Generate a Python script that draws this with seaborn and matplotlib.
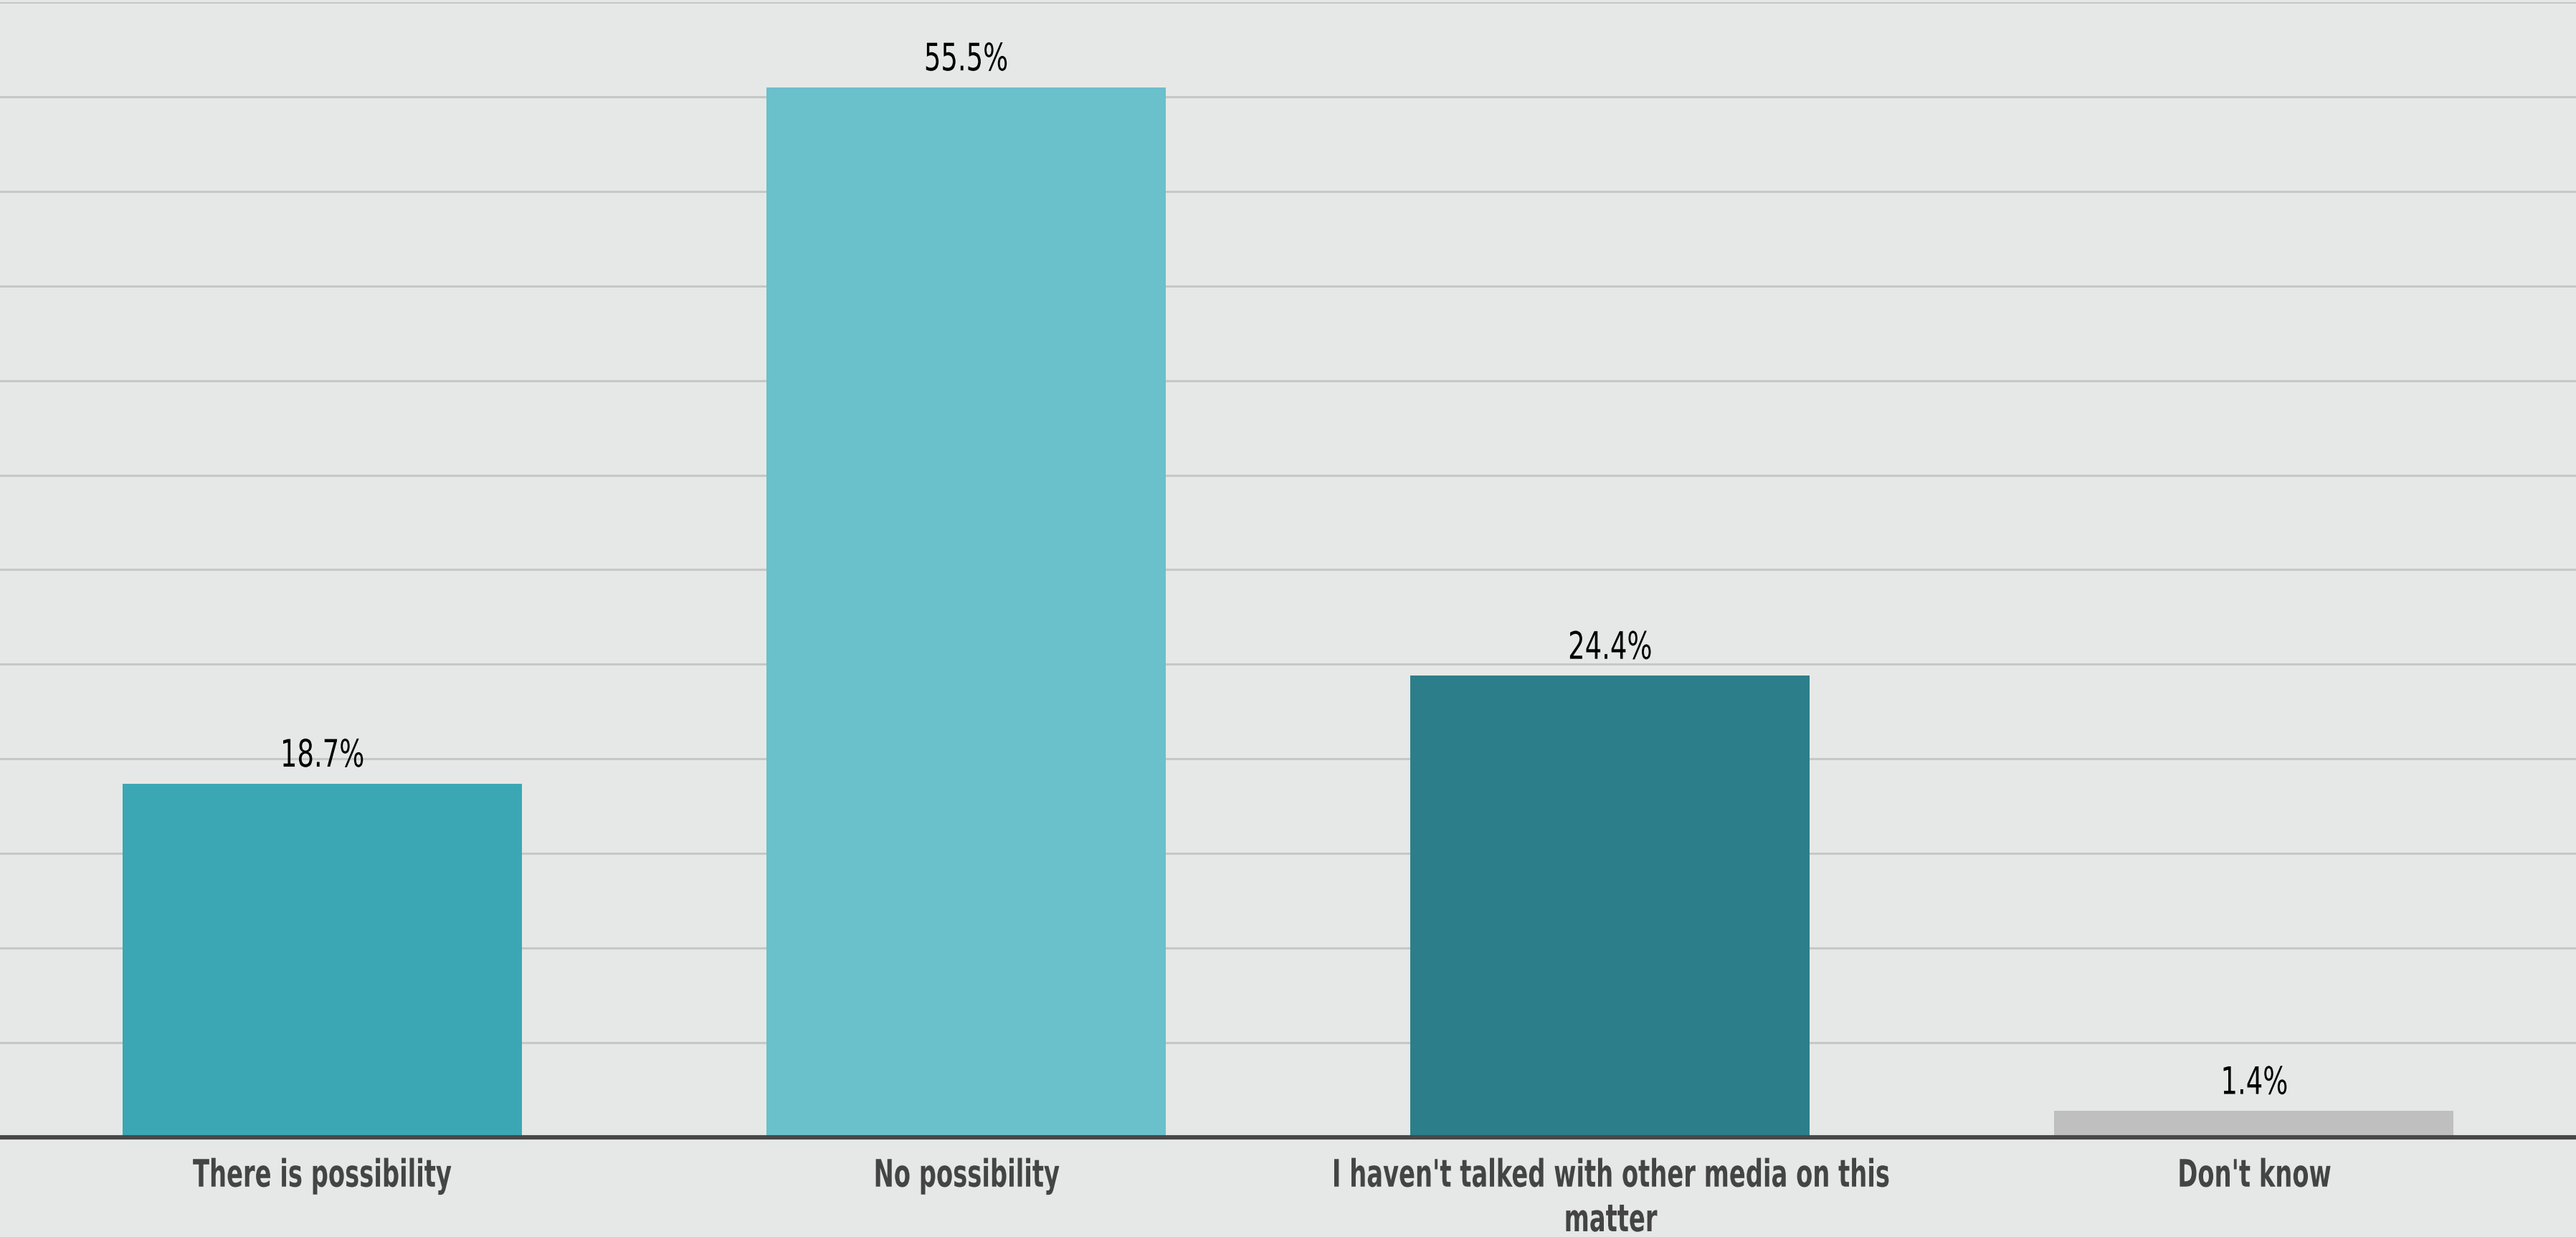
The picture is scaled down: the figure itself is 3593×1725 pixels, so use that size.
import matplotlib
matplotlib.use("Agg")
import matplotlib.pyplot as plt
import seaborn as sns
import pandas as pd
from matplotlib.patheffects import AbstractPathEffect
from matplotlib.transforms import Affine2D

# Data
categories = [
    "There is possibility",
    "No possibility",
    "I haven't talked with other media on this\nmatter",
    "Don't know",
]
values = [18.7, 55.5, 24.4, 1.4]
colors = ["#3ba7b5", "#6ac0cb", "#2c7f8a", "#bfbfbf"]
value_labels = ["18.7%", "55.5%", "24.4%", "1.4%"]

bg = "#e6e8e7"


# squeeze text horizontally to mimic a narrow typeface
class Narrow(AbstractPathEffect):
    def __init__(self, sx):
        super().__init__()
        self.sx = sx

    def draw_path(self, renderer, gc, tpath, affine, rgbFace=None):
        ext = tpath.get_extents(affine)
        cx = (ext.x0 + ext.x1) / 2
        squeeze = Affine2D().translate(-cx, 0).scale(self.sx, 1).translate(cx, 0)
        renderer.draw_path(gc, tpath, affine + squeeze, rgbFace)


sns.set_theme(style="white")
plt.rcParams["font.family"] = ["DejaVu Sans"]

df = pd.DataFrame({"category": categories, "value": values})

fig = plt.figure(figsize=(17.965, 8.625), dpi=200, facecolor=bg)
ax = fig.add_axes([0, 0.0806, 1, 0.9177])
ax.set_facecolor(bg)

sns.barplot(
    data=df, x="category", y="value", hue="category",
    palette=colors, legend=False, width=0.62, saturation=1, ax=ax,
    linewidth=0, zorder=3,
)

ax.set_ylim(0, 60)
ax.set_xlim(-0.5, 3.5)
ax.set_yticks(range(0, 61, 5))
ax.yaxis.grid(True, color="#c6c7c6", linewidth=1.1, zorder=0)
ax.set_axisbelow(True)
ax.tick_params(axis="y", left=False, labelleft=False)
ax.tick_params(axis="x", bottom=False, pad=4)
for lab in ax.get_xticklabels():
    lab.set_fontsize(19)
    lab.set_fontweight("bold")
    lab.set_color("#444444")
    lab.set_linespacing(1.25)
    lab.set_path_effects([Narrow(0.64)])

for s in ["top", "right", "left"]:
    ax.spines[s].set_visible(False)
ax.spines["bottom"].set_color("#484848")
ax.spines["bottom"].set_linewidth(2.2)
ax.spines["bottom"].set_zorder(5)

for i, (v, t) in enumerate(zip(values, value_labels)):
    ax.annotate(t, (i, v), xytext=(0, 4.5), textcoords="offset points",
                ha="center", va="bottom", fontsize=19, color="black",
                path_effects=[Narrow(0.7)])

ax.set_xlabel("")
ax.set_ylabel("")

fig.savefig("out.png", dpi=200, facecolor=bg)
